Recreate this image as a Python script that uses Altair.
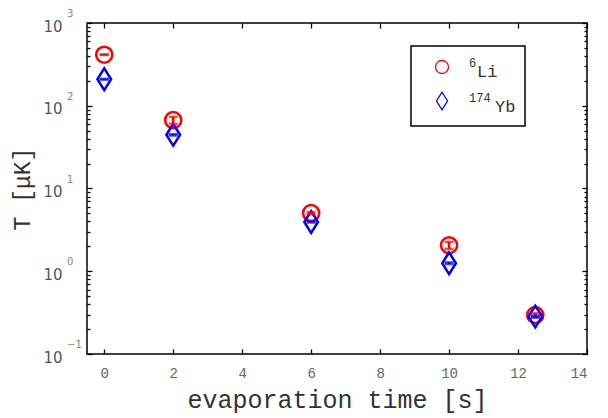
import altair as alt
import pandas as pd

# ---- data ----
times = [0, 2, 6, 10, 12.5]
li_T = [414, 67, 5.05, 2.06, 0.296]
li_err = [3, 6.5, 0.15, 0.2, 0.015]
yb_T = [209, 44.5, 3.94, 1.25, 0.283]
yb_err = [2, 0.8, 0.06, 0.03, 0.008]
series_names = ["6Li", "174Yb"]
series_colors = ["#ff0000", "#0000ff"]
leg_sup = ["6", "174"]
leg_base = ["Li", "Yb"]
decades = [0.1, 1, 10, 100, 1000]
exponents = ["\u22121", "0", "1", "2", "3"]
x_ticks = [0, 2, 4, 6, 8, 10, 12, 14]

rows = []
for t, v, e in zip(times, li_T, li_err):
    rows.append({"t": t, "T": v, "lo": v - e, "hi": v + e, "s": series_names[0]})
for t, v, e in zip(times, yb_T, yb_err):
    rows.append({"t": t, "T": v, "lo": v - e, "hi": v + e, "s": series_names[1]})
df = pd.DataFrame(rows)
exp_df = pd.DataFrame({"v": decades, "e": exponents})
leg_df = pd.DataFrame({"s": series_names, "sup": leg_sup, "base": leg_base, "row": [0, 1]})

MONO = "'Liberation Mono', 'Courier New', Courier, monospace"
W, H = 500, 331
XDOM = [-0.5, 14]
YDOM = [0.1, 1000]
diamond = "M0,-1.35L0.85,0L0,1.35L-0.85,0Z"
color_scale = alt.Scale(domain=series_names, range=series_colors)
shape_scale = alt.Scale(domain=series_names, range=["circle", diamond])

legend = alt.Legend(orient="none", legendX=324, legendY=23, title=None,
                    strokeColor="black", fillColor="transparent",
                    padding=13.5, rowPadding=13, symbolOffset=10,
                    symbolStrokeWidth=1.3, symbolSize=169,
                    labelFontSize=1, labelOffset=62, labelExpr="''")

minor_vals = [m * 10 ** k for k in range(-1, 3) for m in range(1, 10)] + [1000]
major_test = "abs(log(datum.value)/log(10) - round(log(datum.value)/log(10))) < 0.001"

xs_main = alt.Scale(domain=XDOM, nice=False, zero=False)
ys_main = alt.Scale(type="log", domain=YDOM, nice=False)

base = alt.Chart(df)

pts = base.mark_point(filled=False, strokeWidth=2.5, opacity=1).encode(
    x=alt.X("t:Q", scale=xs_main,
            axis=alt.Axis(values=x_ticks, tickSize=0, domain=False, grid=False,
                          labelFont=MONO, labelFontSize=14, labelColor="#666666",
                          labelPadding=12, title="evaporation time [s]",
                          titleFont=MONO, titleFontSize=25, titleFontWeight="normal",
                          titleColor="#333333", titlePadding=7)),
    y=alt.Y("T:Q", scale=ys_main,
            axis=alt.Axis(values=decades, tickSize=0, domain=False, grid=False,
                          labelExpr="'10'", labelFont="DejaVu Sans", labelFontSize=15,
                          labelColor="#555555", labelPadding=25, labelOffset=3,
                          title="T [\u03bcK]", titleFont=MONO, titleFontSize=23,
                          titleFontWeight="normal", titleColor="#333333", titlePadding=8)),
    color=alt.Color("s:N", scale=color_scale, legend=legend),
    shape=alt.Shape("s:N", scale=shape_scale, legend=legend),
    size=alt.value(260),
)

err_layers = []
for name, c in zip(series_names, series_colors):
    b = base.transform_filter(alt.datum.s == name)
    err_layers.append(b.mark_rule(strokeWidth=2.5, color=c).encode(x="t:Q", y="lo:Q", y2="hi:Q"))
    err_layers.append(b.mark_tick(orient="horizontal", size=9, thickness=2.5, color=c)
                      .encode(x="t:Q", y="lo:Q"))
    err_layers.append(b.mark_tick(orient="horizontal", size=9, thickness=2.5, color=c)
                      .encode(x="t:Q", y="hi:Q"))

exp_text = alt.Chart(exp_df).mark_text(align="left", baseline="middle", font="DejaVu Sans",
                                       fontSize=10, color="#888888", dy=-9).encode(
    x=alt.value(-20), y=alt.Y("v:Q", scale=ys_main), text="e:N")

# legend label texts (superscript mass number + element symbol)
leg_sup_txt = alt.Chart(leg_df).mark_text(align="left", baseline="alphabetic", font=MONO,
                                          fontSize=12, color="#333333").encode(
    x=alt.value(382),
    y=alt.Y("row:Q", scale=alt.Scale(domain=[0, 1], range=[44, 79]), axis=None),
    text="sup:N")
leg_base_txt = alt.Chart(leg_df).mark_text(align="left", baseline="alphabetic", font=MONO,
                                           fontSize=17, color="#333333").encode(
    x=alt.X("row:Q", scale=alt.Scale(domain=[0, 1], range=[390, 408]), axis=None),
    y=alt.Y("row:Q", scale=alt.Scale(domain=[0, 1], range=[54, 89]), axis=None),
    text="base:N")

main = alt.layer(pts, *err_layers, exp_text)

def tick_layer(xorient, yorient, xoff, yoff, sizeMajor, sizeMinor):
    return alt.Chart(df).mark_point(opacity=0).encode(
        x=alt.X("t:Q", scale=alt.Scale(domain=XDOM, nice=False, zero=False),
                axis=alt.Axis(orient=xorient, offset=xoff, values=x_ticks, labels=False,
                              title=None, grid=False, domain=False, tickSize=5,
                              tickColor="black", tickWidth=1.3)),
        y=alt.Y("T:Q", scale=alt.Scale(type="log", domain=YDOM, nice=False),
                axis=alt.Axis(orient=yorient, offset=yoff, values=minor_vals, labels=False,
                              title=None, grid=False, domain=False,
                              tickSize={"condition": {"test": major_test, "value": sizeMajor},
                                        "value": sizeMinor},
                              tickColor="black", tickWidth=1.3)),
    )

t1 = tick_layer("top", "right", -H, -W, 5, 3)
t2 = tick_layer("bottom", "left", -H, -W, 5, 3)

chart = alt.layer(main, t1, t2, leg_sup_txt, leg_base_txt).resolve_scale(
    x="independent", y="independent").properties(
    width=W, height=H,
    autosize=alt.AutoSizeParams(type="none"),
    padding={"left": 79, "top": 15, "right": 13, "bottom": 62},
).configure_view(stroke="black", strokeWidth=1.5).configure_legend(
    strokeWidth=1.5
)

chart.save("out.html", embed_options={"renderer": "svg", "actions": False})
